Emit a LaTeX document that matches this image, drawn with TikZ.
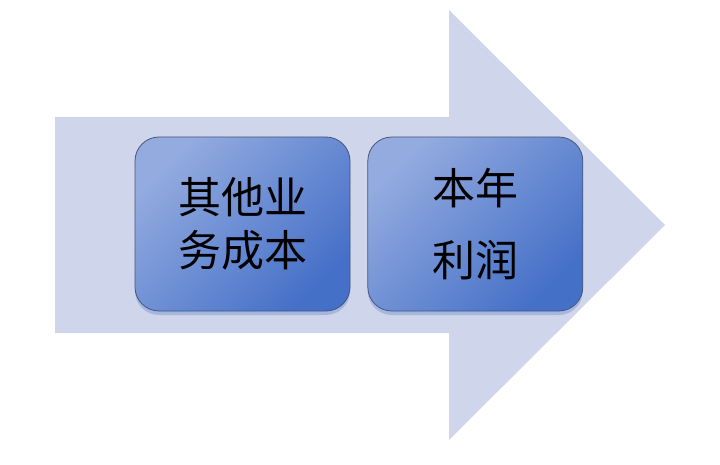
\documentclass[tikz,border=0pt]{standalone}
\usepackage{fontspec}
\newfontfamily\cjk{Noto Sans CJK SC}
\usepackage{tikz}
\usetikzlibrary{positioning,shadows}
\usepackage{xcolor}
\definecolor{arrowfill}{HTML}{CFD5EA}
\definecolor{boxlight}{HTML}{93ABDF}
\definecolor{boxdark}{HTML}{4570C8}
\definecolor{boxline}{HTML}{46577A}

\begin{document}
\begin{tikzpicture}[
				x=1pt,y=-1pt,
				box/.style={draw=boxline,line width=0.8pt,rectangle,minimum width=215pt,minimum height=174pt,rounded corners=24pt,align=center,
					top color=boxlight,bottom color=boxdark,shading angle=45,
					drop shadow={shadow xshift=0pt,shadow yshift=-4pt,fill=boxdark!60!arrowfill,opacity=0.5}},
				tight/.style={font=\cjk\fontsize{43}{53}\selectfont},
				loose/.style={font=\cjk\fontsize{43}{72}\selectfont}
				]
				\useasboundingbox (0,0) rectangle (720,465);
				
				% Freccia di sfondo
				\fill[arrowfill] (55,117) -- (449,117) -- (449,10) -- (665,225) -- (449,440) -- (449,333) -- (55,333) -- cycle;
				
				\node[box,tight] (cost) at (242.5,224) {其他业\\务成本};
				\node[box,loose,right=17pt of cost] (profit) {本年\\利润};
				
			\end{tikzpicture}
\end{document}
